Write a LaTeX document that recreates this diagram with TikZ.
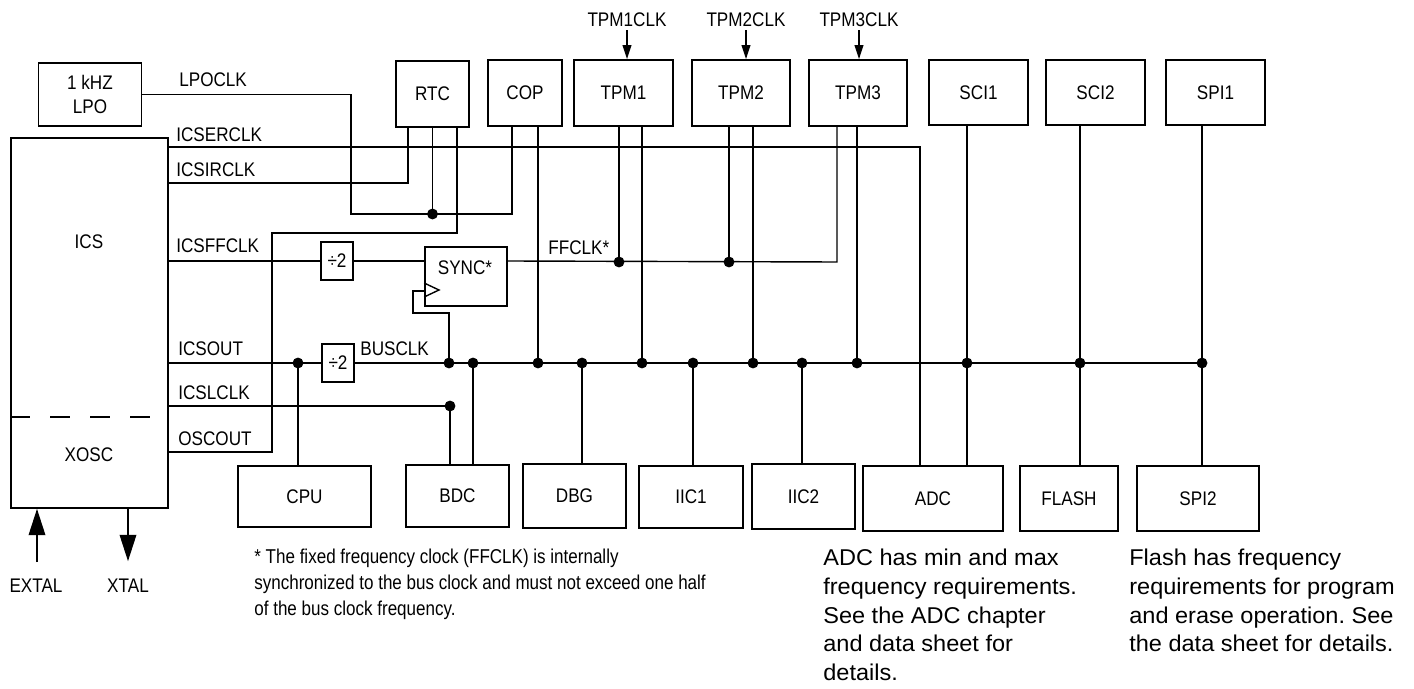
\documentclass[tikz,border=0pt]{standalone}
\usepackage{fontspec}
\setmainfont{Liberation Sans}
\newfontfamily\lblfont[FakeStretch=0.87]{Liberation Sans}
\newfontfamily\notefont[FakeStretch=1.03]{Liberation Sans}
\newfontfamily\fnfont[FakeStretch=0.85]{Liberation Sans}
\usetikzlibrary{arrows.meta, positioning, calc}
\frenchspacing

\tikzset{
    lbl/.style={inner sep=0pt, font=\lblfont\fontsize{11.2}{13.7}\selectfont},
    blk/.style={draw, line width=1pt, lbl, align=center},
    sz/.style 2 args={minimum width=#1*0.02cm, minimum height=#2*0.02cm},
    wire/.style={line width=0.8pt},
    smallarr/.style={wire, -{Triangle[length=8pt, width=5pt]}},
    bigarr/.style={wire, -{Triangle[length=15pt, width=9.5pt]}},
}

\begin{document}
\begin{tikzpicture}[x=0.02cm, y=-0.02cm]
    \useasboundingbox (0,0) rectangle (1414,689);

    % Clock sources
    \node[blk, sz={103}{63}] (lpo) at (90,94.5) {1 kHZ\\LPO};
    \node[blk, sz={157}{370}] (ics) at (89.5,323) {};
    \node[lbl] (icsname) at (89,242) {ICS};
    \node[lbl] (xoscname) at (89,455) {XOSC};
    \draw[wire, dash pattern=on 11.4pt off 11.4pt] (ics.west |- 0,417) -- (ics.east |- 0,417);

    % Top row modules
    \node[blk, sz={73}{66}] (rtc) at (432.5,94) {RTC};
    \node[blk, sz={74}{66}] (cop) at (525,93) {COP};
    \node[blk, sz={99}{66}] (tpm1) at (623.5,93) {TPM1};
    \node[blk, sz={98}{66}] (tpm2) at (741,93) {TPM2};
    \node[blk, sz={98}{66}] (tpm3) at (858,93) {TPM3};
    \node[blk, sz={99}{65}] (sci1) at (978.5,92.5) {SCI1};
    \node[blk, sz={99}{65}] (sci2) at (1095.5,92.5) {SCI2};
    \node[blk, sz={99}{65}] (spi1) at (1215.5,92.5) {SPI1};

    % Bottom row modules
    \node[blk, sz={133}{61}] (cpu) at (304.5,496.5) {CPU};
    \node[blk, sz={103}{62}] (bdc) at (457.5,496) {BDC};
    \node[blk, sz={103}{64}] (dbg) at (574.5,496) {DBG};
    \node[blk, sz={104}{62}] (iic1) at (691,497) {IIC1};
    \node[blk, sz={103}{65}] (iic2) at (803.5,496.5) {IIC2};
    \node[blk, sz={140}{65}] (adc) at (933,498.5) {ADC};
    \node[blk, sz={98}{65}] (flash) at (1069,498.5) {FLASH};
    \node[blk, sz={122}{65}] (spi2) at (1198,498.5) {SPI2};

    % Dividers and sync
    \node[blk, sz={32}{38}] (divff) at (337,261) {÷2};
    \node[blk, sz={32}{38}] (divbus) at (338,363) {÷2};
    \node[blk, sz={82}{59}] (sync) at (466,276.5) {};
    \node[lbl] (syncname) at (465,268) {SYNC*};
    \draw[wire] (sync.west |- 0,283) -- (439,290) -- (sync.west |- 0,297);

    % Signal names
    \node[lbl, anchor=base west] (lpoclk) at (179,87) {LPOCLK};
    \node[lbl, anchor=base west] (icserclk) at (176,142) {ICSERCLK};
    \node[lbl, anchor=base west] (icsirclk) at (176,177) {ICSIRCLK};
    \node[lbl, anchor=base west] (icsffclk) at (176,253) {ICSFFCLK};
    \node[lbl, anchor=base west] (icsout) at (178,356) {ICSOUT};
    \node[lbl, anchor=base west] (icslclk) at (178,399) {ICSLCLK};
    \node[lbl, anchor=base west] (oscout) at (178,445) {OSCOUT};
    \node[lbl, anchor=base west] (busclk) at (360,356) {BUSCLK};
    \node[lbl, anchor=base west] (ffclk) at (548,255) {FFCLK*};

    % External TPM clocks
    \node[lbl, anchor=base] (clk1) at (627,27) {TPM1CLK};
    \node[lbl, anchor=base] (clk2) at (746,27) {TPM2CLK};
    \node[lbl, anchor=base] (clk3) at (859,27) {TPM3CLK};
    \foreach \c/\t in {clk1/tpm1, clk2/tpm2, clk3/tpm3}{
        \draw[smallarr, shorten <=1.5pt] (\c.south) -- (\c.south |- \t.north);
    }

    % LPO and ICS clock routing
    \draw[wire] (lpo.east) -| (351,214) -- (512,214) -- (512,0 |- cop.south);
    \draw[wire] (ics.east |- 0,147) -- (920,147) -- (920,0 |- adc.north);
    \draw[wire] (ics.east |- 0,183) -| (408,0 |- rtc.south);
    \draw[wire] (rtc.south) -- (rtc.south |- 0,214);
    \draw[wire] (ics.east |- 0,452) -| (272,233) -| (457,0 |- rtc.south);
    \draw[wire] (ics.east |- divff) -- (divff.west);
    \draw[wire] (divff.east) -- (sync.west |- divff);

    % FFCLK
    \draw[wire] (sync.east |- divff) -- (837,262) -- (837,0 |- tpm3.south);
    \draw[wire] (619,0 |- tpm1.south) -- (619,262);
    \draw[wire] (729,0 |- tpm2.south) -- (729,262);

    % Bus clock
    \draw[wire] (ics.east |- divbus) -- (divbus.west);
    \draw[wire] (divbus.east) -- (1202,363);
    \draw[wire] (298,363) -- (298,0 |- cpu.north);
    \draw[wire] (449,363) -- (449,313) -| (413,291) -- (sync.west |- 0,291);
    \draw[wire] (ics.east |- 0,406) -- (450,406) -- (450,0 |- bdc.north);
    \foreach \x/\t in {538/cop, 642/tpm1, 753/tpm2, 857/tpm3}{
        \draw[wire] (\x,0 |- \t.south) -- (\x,363);
    }
    \foreach \x/\b in {473/bdc, 582/dbg, 693/iic1, 802/iic2}{
        \draw[wire] (\x,363) -- (\x,0 |- \b.north);
    }
    \foreach \x/\t/\b in {967/sci1/adc, 1080/sci2/flash, 1202/spi1/spi2}{
        \draw[wire] (\x,0 |- \t.south) -- (\x,0 |- \b.north);
    }

    % Junction dots
    \foreach \x in {298,449,473,538,582,642,693,753,802,857,967,1080,1202}{
        \fill (\x,363) circle (3.1pt);
    }
    \fill (rtc.south |- 0,214) circle (3.1pt);
    \fill (619,262) circle (3.1pt);
    \fill (729,262) circle (3.1pt);
    \fill (450,406) circle (3.1pt);

    % Crystal pins
    \node[lbl, anchor=base] (extal) at (36,592) {EXTAL};
    \node[lbl, anchor=base] (xtal) at (128,592) {XTAL};
    \path (extal.north) ++(1,-16) coordinate (extaltail);
    \path (xtal.north) ++(0,-17) coordinate (xtaltip);
    \draw[bigarr] (extaltail) -- (extaltail |- ics.south);
    \draw[bigarr] (xtaltip |- ics.south) -- (xtaltip);

    % Notes
    \node[anchor=north west, inner sep=0pt, align=left, font=\fnfont\fontsize{11.4}{14.8}\selectfont] (fnote) at (254,549)
        {* The fixed frequency clock (FFCLK) is internally\\synchronized to the bus clock and must not exceed one half\\of the bus clock frequency.};
    \node[anchor=north west, inner sep=0pt, align=left, font=\notefont\fontsize{13}{16.3}\selectfont] (adcnote) at (823,549)
        {ADC has min and max\\frequency requirements.\\See the ADC chapter\\and data sheet for\\details.};
    \node[anchor=north west, inner sep=0pt, align=left, font=\notefont\fontsize{13}{16.3}\selectfont] (flashnote) at (1129,549)
        {Flash has frequency\\requirements for program\\and erase operation. See\\the data sheet for details.};
\end{tikzpicture}
\end{document}
